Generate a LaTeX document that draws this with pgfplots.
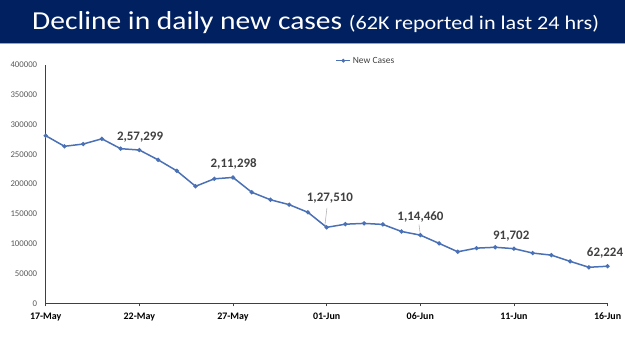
\documentclass[border=0pt]{standalone}
\usepackage{pgfplots}
\pgfplotsset{compat=1.18}
\usepackage{fontspec}
\setmainfont{Carlito}
\definecolor{navy}{RGB}{0,32,96}
\definecolor{lineblue}{RGB}{74,112,181}
\definecolor{axisgrey}{RGB}{64,64,64}
\definecolor{tickgrey}{RGB}{89,89,89}
\definecolor{labgrey}{RGB}{64,64,64}
\definecolor{accent}{RGB}{232,140,100}
\pgfplotstableread{
d v
0 281386
1 263533
2 267334
3 276110
4 259551
5 257299
6 240842
7 222315
8 196427
9 208921
10 211298
11 186364
12 173790
13 165553
14 152734
15 127510
16 132788
17 134154
18 132364
19 120529
20 114460
21 100636
22 86498
23 92596
24 94052
25 91702
26 84332
27 80834
28 70421
29 60471
30 62224
}\cases
\begin{document}
\begin{tikzpicture}[x=1bp,y=1bp]
\path[use as bounding box] (0,0) rectangle (625,351);
\fill[navy] (0,308) rectangle (625,351);
\draw[accent, line width=1bp] (0,307.5) -- (625,307.5);
\node[anchor=base west, white, inner sep=0, xscale=1.14] at (32,321.7)
  {\fontsize{26}{30}\selectfont Decline in daily new cases \fontsize{19.5}{22}\selectfont (62K reported in last 24 hrs)};
\begin{axis}[
  at={(45.7bp,47.7bp)}, anchor=south west,
  scale only axis, width=561.9bp, height=238.3bp,
  xmin=0, xmax=30, ymin=0, ymax=400000,
  clip=false,
  axis x line=bottom, axis y line=left,
  axis line style={-, axisgrey, line width=0.9bp},
  xtick={0,5,...,30},
  xticklabels={17-May,22-May,27-May,01-Jun,06-Jun,11-Jun,16-Jun},
  x tick label style={font=\fontsize{10}{12}\selectfont\bfseries, text=black, yshift=-3bp},
  ytick={0,50000,...,400000},
  scaled y ticks=false,
  /pgf/number format/assume math mode=true,
  y tick label style={font=\fontsize{8.8}{10}\selectfont, text=tickgrey, xshift=-2bp, /pgf/number format/fixed, /pgf/number format/1000 sep={}},
  tick align=outside,
  major tick length=3bp,
  xtick style={axisgrey, line width=0.8bp},
  ytick style={draw=none},
  legend style={at={(0.57,1.018)}, anchor=center, draw=none, fill=none,
    font=\fontsize{9.5}{11}\selectfont, text=axisgrey},
  legend image code/.code={\draw[#1, line width=1.1bp, mark repeat=2, mark phase=2] plot coordinates {(0bp,0bp)(7bp,0bp)(14bp,0bp)};},
]
\addplot[lineblue, line width=1.5bp, mark=*, mark size=1.3bp, mark options={fill=lineblue}] table[x=d,y=v] {\cases};
\addlegendentry{New Cases}
\begin{scope}[every node/.style={font=\fontsize{13}{15}\selectfont\bfseries, text=labgrey, inner sep=0}]
\node at (axis cs:5,257299) [xshift=0.7bp, yshift=13.3bp] {2,57,299};
\node at (axis cs:10,211298) [xshift=0.7bp, yshift=13.1bp] {2,11,298};
\node at (axis cs:15,127510) [xshift=3.3bp, yshift=29bp] {1,27,510};
\node at (axis cs:20,114460) [xshift=0.2bp, yshift=18.4bp] {1,14,460};
\node at (axis cs:25,91702) [xshift=-2.7bp, yshift=12.6bp] {91,702};
\node at (axis cs:30,62224) [xshift=-2.6bp, yshift=12.9bp] {62,224};
\end{scope}
\draw[gray!60, line width=0.6bp] (axis cs:15,127510) ++(-1.7bp,2.5bp) -- ++(2bp,17bp);
\draw[gray!60, line width=0.6bp] (axis cs:20,114460) ++(-0.3bp,2.5bp) -- ++(-1bp,8bp);
\end{axis}
\end{tikzpicture}
\end{document}
